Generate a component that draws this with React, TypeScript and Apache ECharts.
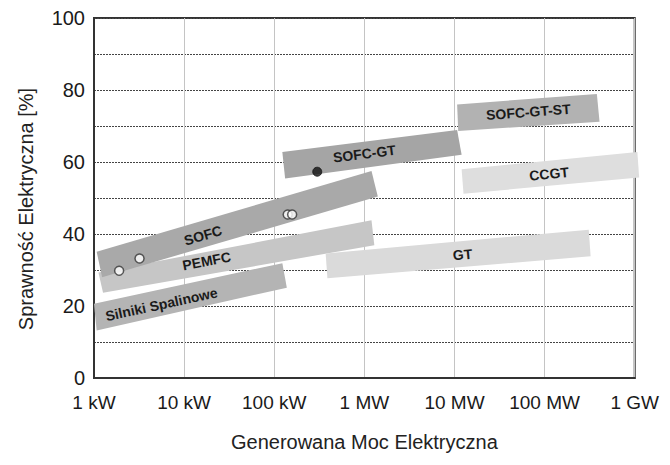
import React, { useEffect, useRef } from "react";
import * as echarts from "echarts";

// Tick labels for the logarithmic power axis (values in kW: 1 ... 1e6)
const xTickLabels = ["1 kW", "10 kW", "100 kW", "1 MW", "10 MW", "100 MW", "1 GW"];
const yTickLabels = [0, 20, 40, 60, 80, 100];

// Technology bands: corners [power kW, efficiency %] TL, TR, BR, BL
const bandNames = ["PEMFC", "Silniki Spalinowe", "SOFC", "SOFC-GT", "SOFC-GT-ST", "GT", "CCGT"];
const bandCorners: number[][][] = [
  [[1.12, 29.3], [1200, 43.8], [1290, 36.9], [1.26, 23.7]],
  [[1.0, 20.6], [123, 31.9], [138, 25.1], [1.07, 13.2]],
  [[1.07, 35.1], [1200, 57.5], [1410, 50.4], [1.23, 28.0]],
  [[123, 62.8], [10700, 68.9], [12000, 62.0], [132, 55.4]],
  [[10700, 76.0], [380000, 78.9], [407000, 71.2], [11000, 68.6]],
  [[372, 34.6], [309000, 41.2], [324000, 33.8], [389, 27.7]],
  [[12000, 58.0], [1070000, 62.8], [1120000, 55.7], [12600, 51.2]],
];
const bandLabelPos: number[][] = [
  [17.8, 32.5],
  [5.6, 20.5],
  [16.2, 39.6],
  [1000, 62.3],
  [66000, 73.9],
  [12300, 34.3],
  [112000, 56.7],
];
const bandColors = ["#c6c6c6", "#b4b4b4", "#a9a9a9", "#a5a5a5", "#b2b2b2", "#dadada", "#dedede"];

// Measured points
const openPoints: number[][] = [[1.9, 29.8], [3.2, 33.2], [141, 45.4], [158, 45.4]];
const filledPoints: number[][] = [[300, 57.3]];

const FONT = "'Liberation Sans', Arial, sans-serif";

export default function App() {
  const ref = useRef<HTMLDivElement>(null);
  useEffect(() => {
    if (!ref.current) return;
    const chart = echarts.init(ref.current, null, { renderer: "svg" });
    const option: any = {
      animation: false,
      backgroundColor: "#ffffff",
      grid: {
        left: 84,
        right: 18,
        top: 6,
        bottom: 64,
        show: true,
        borderColor: "#333",
        borderWidth: 2,
        backgroundColor: "transparent",
      },
      xAxis: {
        type: "log",
        logBase: 10,
        min: 1,
        max: 1000000,
        name: "Generowana Moc Elektryczna",
        nameLocation: "middle",
        nameGap: 54,
        nameTextStyle: { fontFamily: FONT, fontSize: 20, color: "#222" },
        axisLine: { show: true, lineStyle: { color: "#333", width: 2 } },
        axisTick: { show: false },
        axisLabel: {
          fontFamily: FONT,
          fontSize: 19,
          color: "#1a1a1a",
          margin: 15,
          formatter: (v: number) => xTickLabels[Math.round(Math.log10(v))] ?? "",
        },
        splitLine: { show: true, lineStyle: { color: "#c4c4c4", width: 1, type: "solid" } },
      },
      yAxis: {
        type: "value",
        min: 0,
        max: 100,
        interval: 10,
        name: "Sprawność Elektryczna [%]",
        nameLocation: "middle",
        nameGap: 58,
        nameTextStyle: { fontFamily: FONT, fontSize: 20, color: "#222", padding: [0, 22, 0, 0] },
        axisLine: { show: true, lineStyle: { color: "#333", width: 2 } },
        axisTick: { show: false },
        axisLabel: {
          fontFamily: FONT,
          fontSize: 20,
          color: "#1a1a1a",
          margin: 9,
          formatter: (v: number) => (yTickLabels.indexOf(v) >= 0 ? String(v) : ""),
        },
        splitLine: { show: true, lineStyle: { color: "#444", width: 1, type: [2, 1] } },
      },
      series: [
        {
          type: "custom",
          clip: false,
          data: bandNames.map((_, i) => [i]),
          renderItem: (params: any, api: any) => {
            const i = params.dataIndex;
            const pts = bandCorners[i].map((c) => api.coord(c));
            const lp = api.coord(bandLabelPos[i]);
            const ang = -Math.atan2(pts[1][1] - pts[0][1], pts[1][0] - pts[0][0]);
            return {
              type: "group",
              children: [
                {
                  type: "polygon",
                  shape: { points: pts },
                  style: { fill: bandColors[i], stroke: "none" },
                },
                {
                  type: "text",
                  x: lp[0],
                  y: lp[1],
                  rotation: ang,
                  style: {
                    text: bandNames[i],
                    fill: "#1a1a1a",
                    font: `bold 14px ${FONT}`,
                    align: "center",
                    verticalAlign: "middle",
                  },
                },
              ],
            };
          },
          z: 2,
        },
        {
          type: "scatter",
          data: openPoints,
          symbol: "circle",
          symbolSize: 9,
          itemStyle: { color: "#ffffff", borderColor: "#333", borderWidth: 1.5 },
          z: 3,
        },
        {
          type: "scatter",
          data: filledPoints,
          symbol: "circle",
          symbolSize: 9,
          itemStyle: { color: "#111111", borderColor: "#111", borderWidth: 1 },
          z: 3,
        },
      ],
    };
    chart.setOption(option);
    return () => chart.dispose();
  }, []);
  return <div ref={ref} style={{ width: 654, height: 449 }} />;
}
